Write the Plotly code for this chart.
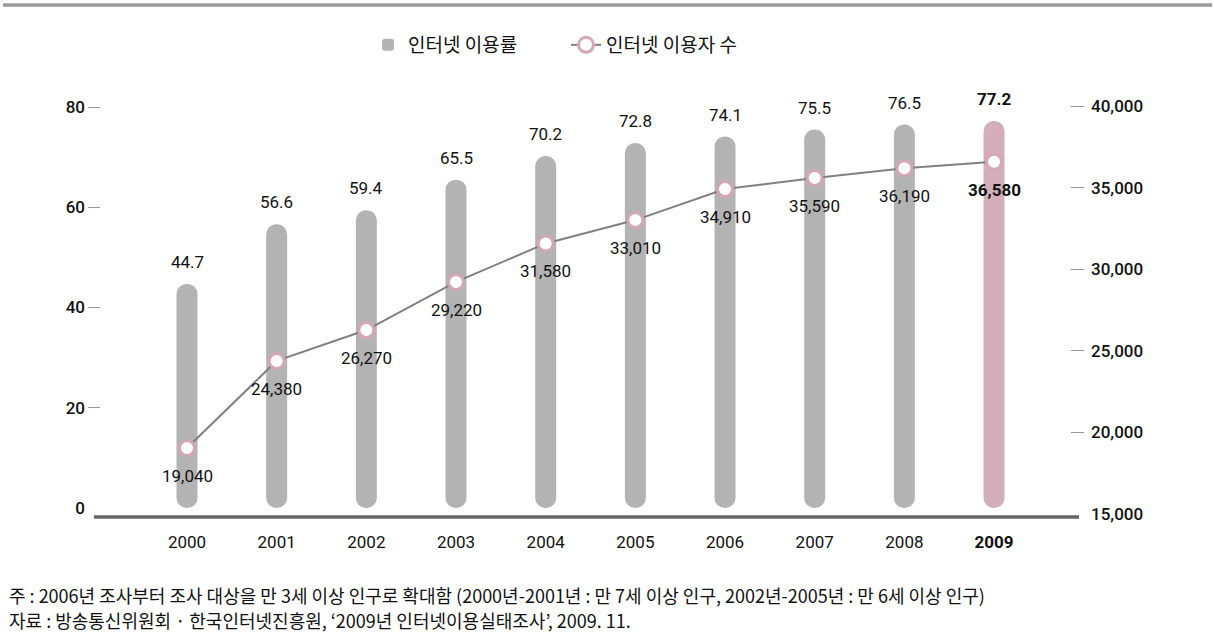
import plotly.graph_objects as go

years = ["2000", "2001", "2002", "2003", "2004", "2005", "2006", "2007", "2008", "2009"]
usage_rate = [44.7, 56.6, 59.4, 65.5, 70.2, 72.8, 74.1, 75.5, 76.5, 77.2]
users = [19040, 24380, 26270, 29220, 31580, 33010, 34910, 35590, 36190, 36580]
left_ticks = [0, 20, 40, 60, 80]
right_ticks = [15000, 20000, 25000, 30000, 35000, 40000]
note_lines = [
    "주 : 2006년 조사부터 조사 대상을 만 3세 이상 인구로 확대함 (2000년-2001년 : 만 7세 이상 인구, 2002년-2005년 : 만 6세 이상 인구)",
    "자료 : 방송통신위원회 · 한국인터넷진흥원, ‘2009년 인터넷이용실태조사’, 2009. 11.",
]

W, H = 1214, 636
PL, PR, PT, PB = 101, 1070, 100, 520
PW, PH = PR - PL, PB - PT

GRAY = "#b3b3b3"
PINK = "#d3adba"
MK_PINK = "#d4a7b6"
NUM_FONT = "Roboto"
KR_FONT = "Noto Sans CJK KR"

y_range = [-2.394, 81.397]
y2_range = [14632.4, 40367.6]
x_range = [-0.959, 9.847]

bar_colors = [GRAY] * (len(years) - 1) + [PINK]

fig = go.Figure()

fig.add_trace(go.Bar(
    x=years, y=usage_rate, base=0,
    marker=dict(color=bar_colors, cornerradius="50%", line=dict(width=0)),
    width=0.234, name="인터넷 이용률", hoverinfo="skip", yaxis="y",
))
fig.add_trace(go.Scatter(
    x=years, y=users, mode="lines+markers", name="인터넷 이용자 수",
    line=dict(color="#808080", width=2),
    marker=dict(size=15, color="white", line=dict(color=MK_PINK, width=3)),
    hoverinfo="skip", yaxis="y2",
))
# invisible references so the tick-only axes are drawn
fig.add_trace(go.Scatter(x=[years[0]], y=[left_ticks[0]], mode="markers",
                         marker=dict(size=1, opacity=0), showlegend=False,
                         hoverinfo="skip", yaxis="y3"))
fig.add_trace(go.Scatter(x=[years[0]], y=[right_ticks[0]], mode="markers",
                         marker=dict(size=1, opacity=0), showlegend=False,
                         hoverinfo="skip", yaxis="y4"))

annotations = []
for i, v in enumerate(usage_rate):
    last = i == len(years) - 1
    annotations.append(dict(
        x=i, y=v, xref="x", yref="y", text=(f"<b>{v}</b>" if last else f"{v}"),
        showarrow=False, yanchor="middle", yshift=22,
        font=dict(family=NUM_FONT, size=17, color="#111"),
    ))
for i, u in enumerate(users):
    last = i == len(years) - 1
    t = f"{u:,}"
    annotations.append(dict(
        x=i, y=u, xref="x", yref="y2", text=(f"<b>{t}</b>" if last else t),
        showarrow=False, yanchor="middle", yshift=-28,
        font=dict(family=NUM_FONT, size=17, color="#111"),
    ))
for k, line in enumerate(note_lines):
    annotations.append(dict(
        x=(7 - PL) / PW, y=(PB - (595 + 25 * k)) / PH, xref="paper", yref="paper",
        text=line, showarrow=False, xanchor="left", yanchor="middle",
        font=dict(family=KR_FONT, size=18, color="#111"),
    ))

shapes = [
    dict(type="line", xref="paper", yref="paper",
         x0=(94 - PL) / PW, x1=(1079 - PL) / PW,
         y0=(PB - 517) / PH, y1=(PB - 517) / PH,
         line=dict(color="#666666", width=3.5)),
    dict(type="line", xref="paper", yref="paper",
         x0=(3 - PL) / PW, x1=(1212 - PL) / PW,
         y0=(PB - 5) / PH, y1=(PB - 5) / PH,
         line=dict(color="#999999", width=3.5)),
]

tickfont = dict(family=NUM_FONT, size=17, color="#111", weight=500)

fig.update_layout(
    width=W, height=H, autosize=False,
    margin=dict(l=PL, r=W - PR, t=PT, b=H - PB, pad=0, autoexpand=False),
    paper_bgcolor="white", plot_bgcolor="white",
    font=dict(family=NUM_FONT, size=16, color="#111"),
    showlegend=True,
    legend=dict(orientation="h", x=(368 - PL) / PW, xanchor="left",
                y=(PB - 45) / PH, yanchor="middle",
                font=dict(family=KR_FONT, size=19, color="#111"),
                itemwidth=30, entrywidth=153, traceorder="normal",
                bgcolor="rgba(0,0,0,0)"),
    xaxis=dict(type="category", range=x_range, showgrid=False, zeroline=False,
               showline=False, ticks="", tickvals=years,
               ticktext=[("<b>%s</b>" % y) if y == "2009" else y for y in years],
               tickfont=dict(family=NUM_FONT, size=17, color="#111"),
               ticklabelstandoff=10),
    yaxis=dict(range=y_range, tickvals=left_ticks, ticks="", showgrid=False,
               zeroline=False, showline=False, tickfont=tickfont,
               ticklabelstandoff=15),
    yaxis2=dict(range=y2_range, overlaying="y", side="right", tickvals=right_ticks,
                tickformat=",d", ticks="", showgrid=False, zeroline=False, showline=False,
                tickfont=tickfont, ticklabelstandoff=20),
    yaxis3=dict(range=y_range, overlaying="y", side="left", tickvals=left_ticks[1:],
                ticks="outside", ticklen=12, tickcolor="#999999", tickwidth=1,
                showticklabels=False, showgrid=False, zeroline=False, showline=False),
    yaxis4=dict(range=y2_range, overlaying="y", side="right", tickvals=right_ticks[1:],
                ticks="outside", ticklen=13, tickcolor="#999999", tickwidth=1,
                showticklabels=False, showgrid=False, zeroline=False, showline=False),
    annotations=annotations, shapes=shapes,
)

fig.write_html("out.html", config={"displayModeBar": False},
               post_script="document.body.style.margin='0';")
